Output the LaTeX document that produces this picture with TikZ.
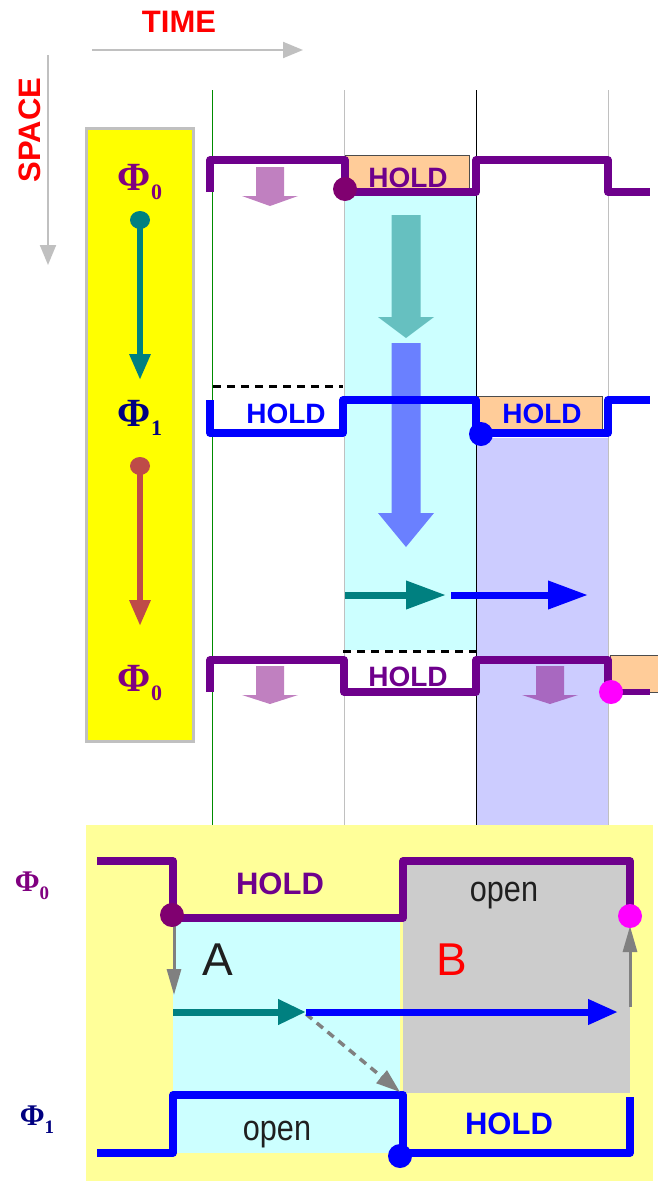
\documentclass[tikz,border=0pt]{standalone}
\usepackage{fontspec}
\usepackage{graphicx}
\setmainfont{Liberation Sans}
\newfontfamily\phifont{Liberation Serif}
\usetikzlibrary{arrows.meta}
\definecolor{wpurple}{RGB}{110,0,140}
\definecolor{phipurple}{RGB}{128,0,128}
\definecolor{phinavy}{RGB}{0,0,128}
\definecolor{dotpurple}{RGB}{128,0,112}
\definecolor{wblue}{RGB}{0,0,255}
\definecolor{holdorange}{RGB}{255,204,153}
\definecolor{cyanbg}{RGB}{204,255,255}
\definecolor{lavbg}{RGB}{204,204,255}
\definecolor{lilac}{RGB}{192,128,192}
\definecolor{lilacdk}{RGB}{168,104,192}
\definecolor{bigteal}{RGB}{102,192,192}
\definecolor{bigblue}{RGB}{106,128,255}
\definecolor{teal}{RGB}{0,128,128}
\definecolor{brick}{RGB}{190,75,72}
\definecolor{panelyellow}{RGB}{255,255,153}
\definecolor{legendyellow}{RGB}{255,255,0}
\definecolor{pinkdot}{RGB}{255,0,255}
\definecolor{graybg}{RGB}{204,204,204}
\definecolor{axisgray}{RGB}{192,192,192}
\definecolor{arrgray}{RGB}{128,128,128}
\definecolor{gridgreen}{RGB}{0,140,0}
\newcommand\myfs[1]{\fontsize{#1}{#1}\selectfont}
\newcommand\blkarrow[7]{\fill[#1] (#2-#6,#3) -- (#2+#6,#3) -- (#2+#6,#4) -- (#2+#7,#4) -- (#2,#5) -- (#2-#7,#4) -- (#2-#6,#4) -- cycle;}
\tikzset{
  wave/.style={line width=7.5pt, line join=round},
  holdbox/.style={fill=holdorange, draw=black!70, line width=1pt},
  lbl/.style={inner sep=0pt, font=\bfseries},
  gridline/.style={line width=1pt},
  dashline/.style={dashed, dash pattern=on 8pt off 6pt, line width=3pt},
}
\begin{document}
\begin{tikzpicture}[x=1pt,y=-1pt]
\useasboundingbox (0,0) rectangle (657,1181);
% axes
\node[lbl, text=red, font=\bfseries\myfs{31}] (time) at (179,22) {TIME};
\draw[axisgray, line width=2pt, -{Triangle[length=20pt,width=16pt]}] (92,50) -- (303,50);
\node[lbl, text=red, font=\bfseries\myfs{31}, rotate=90] (space) at (30,130) {SPACE};
\draw[axisgray, line width=2pt, -{Triangle[length=20pt,width=16pt]}] (48,55) -- (48,265);
% shaded regions
\fill[cyanbg] (345,196) rectangle (476,650);
\fill[lavbg] (477,438) rectangle (608,825);
% grid lines
\draw[gridline, gridgreen] (212,90) -- (212,825);
\draw[gridline, axisgray] (344,90) -- (344,825);
\draw[gridline, black] (476,90) -- (476,825);
\draw[gridline, axisgray] (608,90) -- (608,825);
% dashed lines
\draw[dashline] (213,386) -- (343,386);
\draw[dashline] (343,651) -- (476,651);
% hold boxes
\draw[holdbox] (345,155) rectangle (469,192);
\draw[holdbox] (477,396) rectangle (602,432);
\draw[holdbox] (610,655) rectangle (662,692);
% big block arrows
\blkarrow{bigteal}{406}{215}{317}{338}{14.5}{28}
\blkarrow{bigblue}{406}{343}{513}{547}{14.5}{28}
\blkarrow{lilac}{270}{167}{196}{206}{14}{28}
\blkarrow{lilac}{270}{666}{695}{704}{14}{28}
\blkarrow{lilacdk}{550}{666}{695}{704}{14}{28}
% horizontal arrows
\draw[teal, line width=7pt, -{Triangle[length=40pt,width=27pt]}] (345,595) -- (446,595);
\draw[wblue, line width=7pt, -{Triangle[length=40pt,width=27pt]}] (451,595) -- (588,595);
% waveforms
\draw[wave, wpurple] (210,192) -- (210,160) -- (345,160) -- (345,192) -- (476,192) -- (476,160) -- (608,160) -- (608,192) -- (650,192);
\draw[wave, wblue] (210,400) -- (210,433) -- (343,433) -- (343,400) -- (476,400) -- (476,433) -- (608,433) -- (608,400) -- (650,400);
\draw[wave, wpurple] (210,692) -- (210,660) -- (344,660) -- (344,692) -- (476,692) -- (476,660) -- (608,660) -- (608,692);
\draw[wpurple, line width=6pt] (608,692) -- (650,692);
% dots
\fill[dotpurple] (345,189) circle (12);
\fill[wblue] (481,434) circle (12);
\fill[pinkdot] (611,692) circle (12);
% labels
\node[lbl, text=wpurple, font=\bfseries\myfs{28}] (h1) at (408,178) {HOLD};
\node[lbl, text=wblue, font=\bfseries\myfs{28}] (h2) at (286,414) {HOLD};
\node[lbl, text=wblue, font=\bfseries\myfs{28}] (h3) at (542,414) {HOLD};
\node[lbl, text=wpurple, font=\bfseries\myfs{28}] (h4) at (408,677) {HOLD};
% yellow legend box
\draw[fill=legendyellow, draw=axisgray, line width=3pt] (86,128) rectangle (193,741);
\node[inner sep=0pt, text=phipurple] (p0a) at (140,182) {\phifont\bfseries\myfs{40}Φ\raisebox{-9pt}{\myfs{22}0}};
\node[inner sep=0pt, text=phinavy] (p1) at (140,418) {\phifont\bfseries\myfs{40}Φ\raisebox{-9pt}{\myfs{22}1}};
\node[inner sep=0pt, text=phipurple] (p0b) at (140,683) {\phifont\bfseries\myfs{40}Φ\raisebox{-9pt}{\myfs{22}0}};
\fill[teal] (140,220) ellipse (10 and 9);
\draw[teal, line width=6pt, -{Triangle[length=26pt,width=20pt]}] (140,220) -- (140,380);
\fill[brick] (140,466) ellipse (10 and 9);
\draw[brick, line width=6pt, -{Triangle[length=26pt,width=20pt]}] (140,466) -- (140,626);
% bottom panel
\fill[panelyellow] (86,825) rectangle (653,1181);
\fill[graybg] (403,861) rectangle (630,1093);
\fill[cyanbg] (173,918) rectangle (400,1153);
\draw[wave, wpurple] (97,861) -- (173,861) -- (173,918) -- (403,918) -- (403,861) -- (630,861) -- (630,915);
\draw[wave, wblue] (97,1153) -- (173,1153) -- (173,1095) -- (403,1095) -- (403,1153) -- (630,1153) -- (630,1097);
\draw[arrgray, line width=3pt, -{Triangle[length=26pt,width=14pt]}] (174,918) -- (174,995);
\draw[arrgray, line width=3pt, -{Triangle[length=26pt,width=14pt]}] (630,1007) -- (630,926);
\draw[arrgray, line width=3.5pt, dashed, dash pattern=on 8pt off 6pt, -{Triangle[length=24pt,width=16pt]}] (306,1014) -- (400,1092);
\draw[teal, line width=7pt, -{Triangle[length=28pt,width=24pt]}] (173,1012) -- (306,1012);
\draw[wblue, line width=7pt, -{Triangle[length=30pt,width=24pt]}] (306,1012) -- (618,1012);
\fill[dotpurple] (172,915) circle (12);
\fill[pinkdot] (630,916) circle (12);
\fill[wblue] (400,1156) circle (12);
\node[lbl, text=wpurple, font=\bfseries\myfs{31}] (ph) at (280,884) {HOLD};
\node[inner sep=0pt, text=black!88, font=\myfs{36}] (po1) at (504,896) {\scalebox{0.85}[1]{open}};
\node[inner sep=0pt, text=black!88, font=\myfs{46}] (pa) at (218,960) {A};
\node[inner sep=0pt, text=red, font=\myfs{46}] (pb) at (452,960) {B};
\node[inner sep=0pt, text=black!88, font=\myfs{36}] (po2) at (277,1135) {\scalebox{0.85}[1]{open}};
\node[lbl, text=wblue, font=\bfseries\myfs{31}] (bh) at (509,1124) {HOLD};
\node[inner sep=0pt, text=phipurple] (q0) at (32,886) {\phifont\bfseries\myfs{30}Φ\raisebox{-8pt}{\myfs{19}0}};
\node[inner sep=0pt, text=phinavy] (q1) at (37,1120) {\phifont\bfseries\myfs{30}Φ\raisebox{-8pt}{\myfs{19}1}};
\end{tikzpicture}
\end{document}
